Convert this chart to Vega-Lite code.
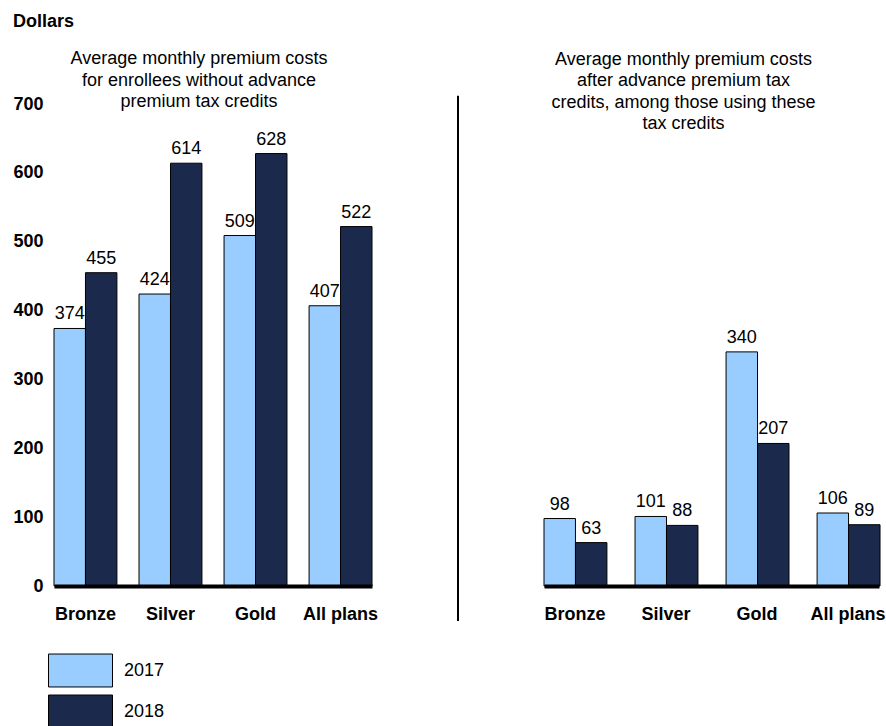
{
  "$schema": "https://vega.github.io/schema/vega-lite/v6.json",
  "padding": {"left": 12, "top": 13, "right": 0, "bottom": 0},
  "title": {"text": "Dollars", "anchor": "start", "fontSize": 18, "fontWeight": "bold", "font": "Liberation Sans", "color": "black", "offset": 19},
  "config": {
    "font": "Liberation Sans",
    "view": {"stroke": null},
    "title": {"fontSize": 18, "fontWeight": "normal", "font": "Liberation Sans", "color": "black", "lineHeight": 21.5},
    "axis": {"labelFont": "Liberation Sans", "labelColor": "black"}
  },
  "bounds": "flush",
  "spacing": 76,
  "datasets": {
    "left": [
      {"plan": "Bronze", "year": "2017", "value": 374},
      {"plan": "Bronze", "year": "2018", "value": 455},
      {"plan": "Silver", "year": "2017", "value": 424},
      {"plan": "Silver", "year": "2018", "value": 614},
      {"plan": "Gold", "year": "2017", "value": 509},
      {"plan": "Gold", "year": "2018", "value": 628},
      {"plan": "All plans", "year": "2017", "value": 407},
      {"plan": "All plans", "year": "2018", "value": 522}
    ],
    "right": [
      {"plan": "Bronze", "year": "2017", "value": 98},
      {"plan": "Bronze", "year": "2018", "value": 63},
      {"plan": "Silver", "year": "2017", "value": 101},
      {"plan": "Silver", "year": "2018", "value": 88},
      {"plan": "Gold", "year": "2017", "value": 340},
      {"plan": "Gold", "year": "2018", "value": 207},
      {"plan": "All plans", "year": "2017", "value": 106},
      {"plan": "All plans", "year": "2018", "value": 89}
    ],
    "divider": [{"top": 712, "bottom": -51}]
  },
  "hconcat": [
    {
      "width": 318,
      "height": 482,
      "title": {"text": ["Average monthly premium costs", "for enrollees without advance", "premium tax credits"], "dx": -14, "offset": -16},
      "data": {"name": "left"},
      "encoding": {
        "x": {"field": "plan", "type": "nominal", "sort": ["Bronze", "Silver", "Gold", "All plans"],
          "scale": {"paddingInner": 0.26, "paddingOuter": 0},
          "axis": {"title": null, "labelAngle": 0, "labelFontSize": 18, "labelFontWeight": "bold", "labelPadding": 19, "ticks": false, "domainColor": "black", "domainWidth": 4, "zindex": 1}},
        "xOffset": {"field": "year", "type": "nominal", "scale": {"paddingInner": 0, "paddingOuter": 0}},
        "y": {"field": "value", "type": "quantitative", "scale": {"domain": [0, 700]},
          "axis": {"title": null, "values": [0, 100, 200, 300, 400, 500, 600, 700], "grid": false, "domain": false, "ticks": false, "tickSize": 0, "labelFontSize": 18, "labelFontWeight": "bold", "labelPadding": 11}}
      },
      "layer": [
        {"mark": {"type": "bar", "stroke": "black", "strokeWidth": 1},
         "encoding": {"color": {"field": "year", "type": "nominal",
           "scale": {"domain": ["2017", "2018"], "range": ["#99CCFF", "#1B2A4C"]},
           "legend": {"orient": "none", "legendX": 10, "legendY": 550, "title": null, "symbolType": "M-2,-1.03H2V1.03H-2Z", "symbolSize": 1024, "symbolStrokeColor": "#595959", "symbolStrokeWidth": 1, "labelFontSize": 18, "labelColor": "black", "labelFont": "Liberation Sans", "labelOffset": 27, "rowPadding": 4}}}},
        {"mark": {"type": "text", "baseline": "alphabetic", "dy": -9, "fontSize": 18, "color": "black"},
         "encoding": {"text": {"field": "value", "type": "quantitative"}}}
      ]
    },
    {
      "width": 0,
      "height": 482,
      "data": {"name": "divider"},
      "mark": {"type": "rule", "color": "black", "strokeWidth": 2, "clip": false},
      "encoding": {
        "y": {"field": "bottom", "type": "quantitative", "scale": {"domain": [0, 700]}, "axis": null},
        "y2": {"field": "top"}
      }
    },
    {
      "width": 335,
      "height": 482,
      "title": {"text": ["Average monthly premium costs", "after advance premium tax", "credits, among those using these", "tax credits"], "dx": -28, "offset": -29},
      "data": {"name": "right"},
      "encoding": {
        "x": {"field": "plan", "type": "nominal", "sort": ["Bronze", "Silver", "Gold", "All plans"],
          "scale": {"paddingInner": 0.32, "paddingOuter": 0},
          "axis": {"title": null, "labelAngle": 0, "labelFontSize": 18, "labelFontWeight": "bold", "labelPadding": 19, "ticks": false, "domainColor": "black", "domainWidth": 4, "zindex": 1}},
        "xOffset": {"field": "year", "type": "nominal", "scale": {"paddingInner": 0, "paddingOuter": 0}},
        "y": {"field": "value", "type": "quantitative", "scale": {"domain": [0, 700]}, "axis": null}
      },
      "layer": [
        {"mark": {"type": "bar", "stroke": "black", "strokeWidth": 1},
         "encoding": {"color": {"field": "year", "type": "nominal",
           "scale": {"domain": ["2017", "2018"], "range": ["#99CCFF", "#1B2A4C"]}}}},
        {"mark": {"type": "text", "baseline": "alphabetic", "dy": -9, "fontSize": 18, "color": "black"},
         "encoding": {"text": {"field": "value", "type": "quantitative"}}}
      ]
    }
  ],
  "resolve": {"scale": {"color": "shared"}}
}
